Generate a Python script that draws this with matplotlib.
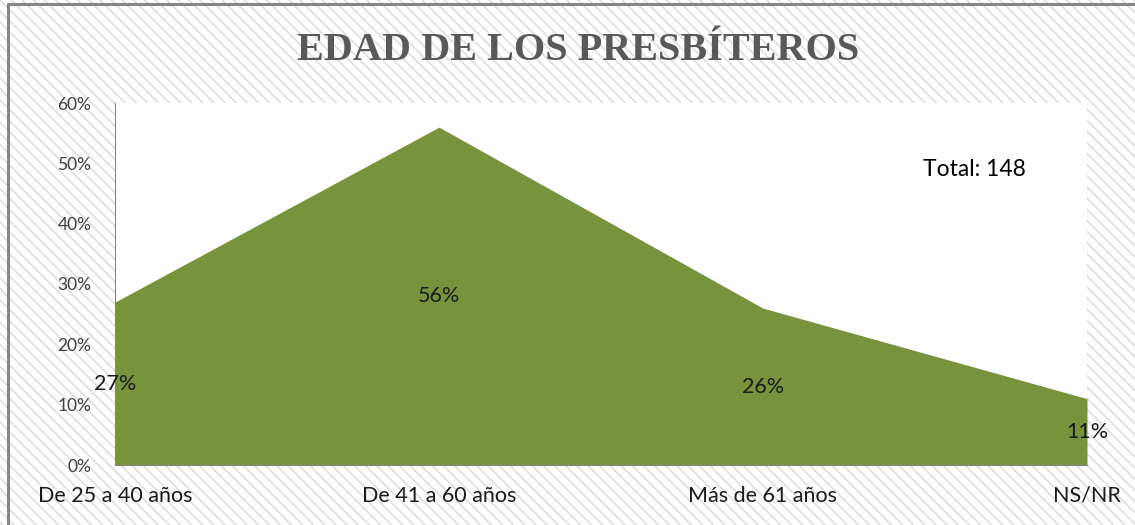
import matplotlib
matplotlib.use("Agg")
import matplotlib.pyplot as plt
from matplotlib.patches import Rectangle

categorias = ["De 25 a 40 años", "De 41 a 60 años", "Más de 61 años", "NS/NR"]
valores = [27, 56, 26, 11]
yticks = [0, 10, 20, 30, 40, 50, 60]
total = 148

plt.rcParams['font.family'] = ['Lato', 'DejaVu Sans']
plt.rcParams['hatch.linewidth'] = 1.3

W, H = 1135, 525
fig = plt.figure(figsize=(W / 100, H / 100), dpi=100)

# fondo rayado
fondo = Rectangle((-0.02, -0.02), 1.04, 1.04, transform=fig.transFigure, facecolor='white',
                  edgecolor='#e0e0e0', hatch='\\\\\\', lw=0, zorder=-10)
fig.patches.append(fondo)
# marco del grafico (solo arriba e izquierda visibles)
fig.add_artist(plt.Line2D([8 / W, 8 / W, 1.01], [-0.01, 1 - 4 / H, 1 - 4 / H],
                          transform=fig.transFigure, color='#868686', lw=2.2))

ax = fig.add_axes([115 / W, 1 - 465 / H, (1087 - 115) / W, (465 - 103) / H])
ax.set_facecolor('white')

x = list(range(len(categorias)))
ax.fill_between(x, 0, valores, color='#77933C', lw=0)
ax.set_xlim(0, len(categorias) - 1)
ax.set_ylim(0, 60)

for xi, v in zip(x, valores):
    ax.text(xi, v / 2, f"{v}%", ha='center', va='center', fontsize=15.5, color='#1a1a1a')

ax.set_yticks(yticks)
ax.set_yticklabels([f"{t}%" for t in yticks], fontsize=12.5, color='#404040')
ax.set_xticks(x)
ax.set_xticklabels(categorias, fontsize=15.5, color='#1a1a1a')
ax.tick_params(axis='y', length=0, pad=17)
ax.tick_params(axis='x', length=0, pad=15)

for s in ['top', 'right']:
    ax.spines[s].set_visible(False)
ax.spines['left'].set_color('#868686')
ax.spines['bottom'].set_color('#868686')

ax.text(0.884, 0.815, f"Total: {total}", transform=ax.transAxes, ha='center',
        va='center', fontsize=16.5, color='black')

fig.text(578 / W, 1 - 50 / H, "EDAD DE LOS PRESBÍTEROS", ha='center', va='center',
         fontsize=29, fontweight='bold', family=['Liberation Serif', 'DejaVu Serif'],
         color='#595959')

fig.savefig("out.png", dpi=100)
